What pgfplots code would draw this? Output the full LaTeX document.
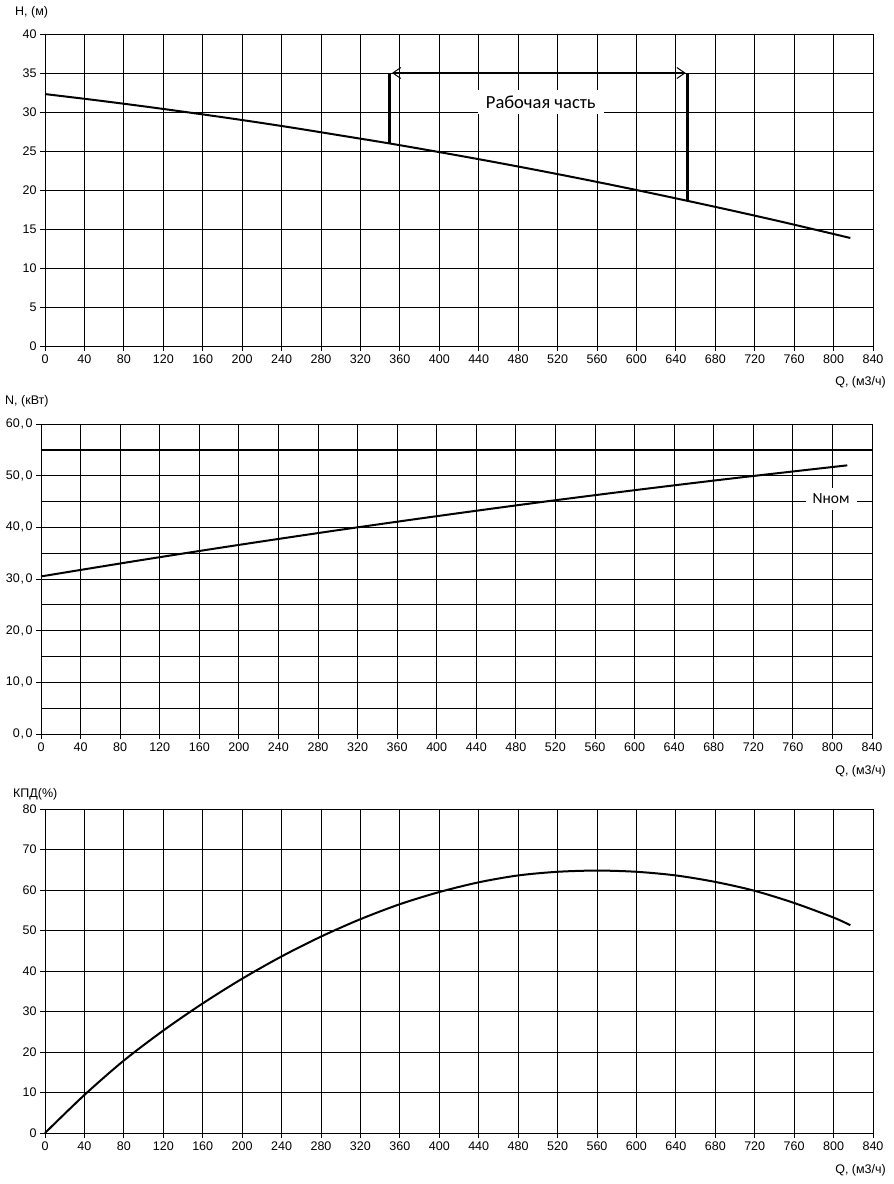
\documentclass[border=0pt]{standalone}
\usepackage{pgfplots}
\pgfplotsset{compat=1.18}
\usepackage{fontspec}
\setmainfont{Liberation Sans}
\newfontfamily\calibri{Carlito}
\usetikzlibrary{arrows.meta}
\begin{document}
\begin{tikzpicture}
\useasboundingbox (0pt,0pt) rectangle (894pt,-1184pt);
\pgfplotsset{
  every axis/.append style={
    scale only axis,
    anchor=south west,
    font=\fontsize{12.5}{14}\selectfont,
    /pgf/number format/assume math mode=true,
    xmin=0, xmax=840,
    xtick={0,40,...,840},
    tick align=outside,
    xtick pos=bottom, ytick pos=left,
    major tick length=5pt, minor tick length=0pt,
    grid=both,
    major grid style={black, line width=0.9pt},
    minor grid style={black, line width=0.9pt},
    axis line style={black, line width=0.9pt},
    tick style={black, line width=0.9pt},
    clip=false,
  }
}
% ---------- H ----------
\begin{axis}[at={(45pt,-346pt)}, width=828pt, height=312pt,
  ymin=0, ymax=40, ytick={0,5,...,40}]
\addplot[black, line width=2pt, smooth] coordinates {
(0,32.3)(50,31.54)(100,30.73)(150,29.87)(200,28.97)(250,28.01)(300,26.99)
(350,25.96)(400,24.86)(450,23.72)(500,22.53)(550,21.29)(600,20.0)(650,18.66)
(700,17.28)(750,15.85)(817,13.85)};
\addplot[black, line width=3pt] coordinates {(350,25.96)(350,35)};
\addplot[black, line width=3pt] coordinates {(652,18.6)(652,35)};
\addplot[black, line width=2.5pt, {Straight Barb[length=8pt,width=11pt,line width=1pt]}-{Straight Barb[length=8pt,width=11pt,line width=1pt]}] coordinates {(352,35)(650,35)};
\node[fill=white, inner xsep=8pt, inner ysep=6pt, font=\calibri\fontsize{18.5}{20}\selectfont] at (axis cs:503,31.3) {Рабочая часть};
\end{axis}
% ---------- N ----------
\begin{axis}[at={(41pt,-734pt)}, width=831pt, height=310pt,
  ymin=0, ymax=60, ytick={0,10,...,60}, minor ytick={5,15,...,55},
  yticklabel style={/pgf/number format/.cd, fixed, fixed zerofill, precision=1, use comma, set decimal separator={\kern0.8pt,\kern1.5pt}}]
\addplot[black, line width=2.5pt] coordinates {(0,55)(840,55)};
\addplot[black, line width=2pt, smooth] coordinates {
(0,30.5)(100,33.62)(200,36.6)(300,39.45)(400,42.16)(500,44.75)(600,47.19)(700,49.5)(815,52.0)};
\node[fill=white, inner xsep=7pt, inner ysep=6pt, font=\calibri\fontsize{15.5}{17}\selectfont] at (axis cs:798.6,45.5) {Nном};
\end{axis}
% ---------- KPD ----------
\begin{axis}[at={(45pt,-1133pt)}, width=828pt, height=324pt,
  ymin=0, ymax=80, ytick={0,10,...,80}]
\addplot[black, line width=2pt, smooth] coordinates {
(0,0)(40,9.4)(80,17.9)(120,25.3)(160,32.0)(200,38.1)(240,43.6)(280,48.5)
(320,52.8)(360,56.5)(400,59.5)(440,61.9)(480,63.6)(520,64.5)(560,64.8)(600,64.5)
(640,63.6)(680,62.0)(720,59.8)(760,56.8)(800,53.2)(817,51.3)};
\end{axis}
% ---------- labels ----------
\begin{scope}[font=\fontsize{12.5}{14}\selectfont]
\node[anchor=west, inner sep=0pt] at (15pt,-12pt) {H, (м)};
\node[anchor=east, inner sep=0pt] at (886pt,-382pt) {Q, (м3/ч)};
\node[anchor=west, inner sep=0pt] at (5pt,-401pt) {N, (кВт)};
\node[anchor=east, inner sep=0pt] at (886pt,-771pt) {Q, (м3/ч)};
\node[anchor=west, inner sep=0pt] at (13pt,-794pt) {КПД(\%)};
\node[anchor=east, inner sep=0pt] at (886pt,-1170pt) {Q, (м3/ч)};
\end{scope}
\end{tikzpicture}
\end{document}
